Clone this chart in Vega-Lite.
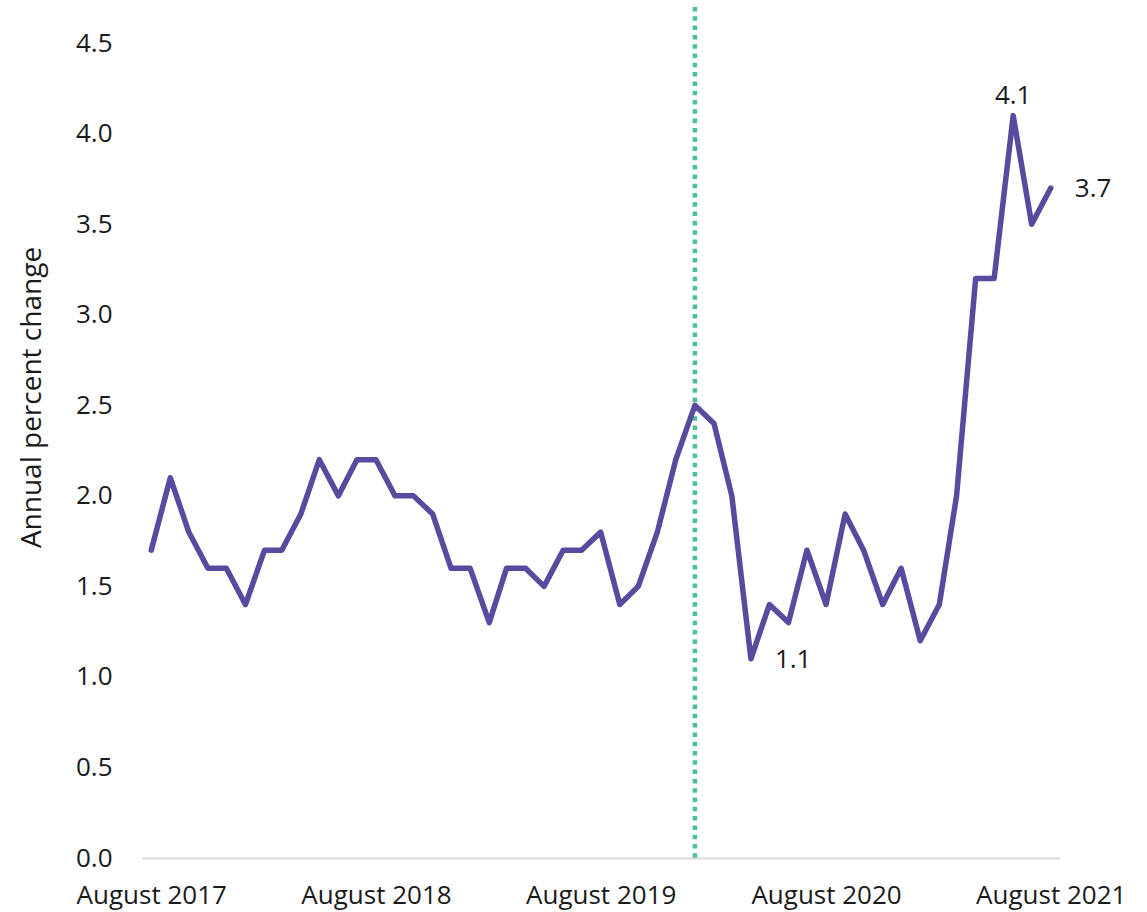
{
  "$schema": "https://vega.github.io/schema/vega-lite/v6.json",
  "width": 918,
  "height": 851,
  "autosize": "none",
  "padding": {"left": 142, "top": 7, "right": 87, "bottom": 54},
  "background": "white",
  "config": {
    "view": {"stroke": null},
    "font": "Open Sans",
    "axis": {"labelFont": "Open Sans", "titleFont": "Open Sans", "labelColor": "#1a1a1a", "titleColor": "#1a1a1a", "grid": false, "ticks": false}
  },
  "datasets": {
    "series": [
      {"date": "2017-08-01", "value": 1.7},
      {"date": "2017-09-01", "value": 2.1},
      {"date": "2017-10-01", "value": 1.8},
      {"date": "2017-11-01", "value": 1.6},
      {"date": "2017-12-01", "value": 1.6},
      {"date": "2018-01-01", "value": 1.4},
      {"date": "2018-02-01", "value": 1.7},
      {"date": "2018-03-01", "value": 1.7},
      {"date": "2018-04-01", "value": 1.9},
      {"date": "2018-05-01", "value": 2.2},
      {"date": "2018-06-01", "value": 2.0},
      {"date": "2018-07-01", "value": 2.2},
      {"date": "2018-08-01", "value": 2.2},
      {"date": "2018-09-01", "value": 2.0},
      {"date": "2018-10-01", "value": 2.0},
      {"date": "2018-11-01", "value": 1.9},
      {"date": "2018-12-01", "value": 1.6},
      {"date": "2019-01-01", "value": 1.6},
      {"date": "2019-02-01", "value": 1.3},
      {"date": "2019-03-01", "value": 1.6},
      {"date": "2019-04-01", "value": 1.6},
      {"date": "2019-05-01", "value": 1.5},
      {"date": "2019-06-01", "value": 1.7},
      {"date": "2019-07-01", "value": 1.7},
      {"date": "2019-08-01", "value": 1.8},
      {"date": "2019-09-01", "value": 1.4},
      {"date": "2019-10-01", "value": 1.5},
      {"date": "2019-11-01", "value": 1.8},
      {"date": "2019-12-01", "value": 2.2},
      {"date": "2020-01-01", "value": 2.5},
      {"date": "2020-02-01", "value": 2.4},
      {"date": "2020-03-01", "value": 2.0},
      {"date": "2020-04-01", "value": 1.1, "label": "1.1", "pos": "low"},
      {"date": "2020-05-01", "value": 1.4},
      {"date": "2020-06-01", "value": 1.3},
      {"date": "2020-07-01", "value": 1.7},
      {"date": "2020-08-01", "value": 1.4},
      {"date": "2020-09-01", "value": 1.9},
      {"date": "2020-10-01", "value": 1.7},
      {"date": "2020-11-01", "value": 1.4},
      {"date": "2020-12-01", "value": 1.6},
      {"date": "2021-01-01", "value": 1.2},
      {"date": "2021-02-01", "value": 1.4},
      {"date": "2021-03-01", "value": 2.0},
      {"date": "2021-04-01", "value": 3.2},
      {"date": "2021-05-01", "value": 3.2},
      {"date": "2021-06-01", "value": 4.1, "label": "4.1", "pos": "top"},
      {"date": "2021-07-01", "value": 3.5},
      {"date": "2021-08-01", "value": 3.7, "label": "3.7", "pos": "end"}
    ],
    "marker": [{"date": "2020-01-01"}]
  },
  "layer": [
    {
      "data": {"name": "marker"},
      "mark": {"type": "rule", "color": "#4dbf94", "strokeWidth": 4.5, "strokeDash": [4.5, 4.8]},
      "encoding": {
        "x": {"field": "date", "type": "temporal"}
      }
    },
    {
      "data": {"name": "series"},
      "mark": {"type": "line", "color": "#564b9f", "strokeWidth": 5.5, "strokeJoin": "round", "strokeCap": "round"},
      "encoding": {
        "x": {
          "field": "date", "type": "temporal",
          "scale": {"type": "utc", "domain": ["2017-07-17", "2021-08-16"]},
          "axis": {
            "title": null,
            "values": ["2017-08-01", "2018-08-01", "2019-08-01", "2020-08-01", "2021-08-01"],
            "format": "%B %Y",
            "labelFontSize": 26,
            "labelPadding": 24,
            "labelOverlap": false,
            "domainColor": "#d9d9d9",
            "domainWidth": 2
          }
        },
        "y": {
          "field": "value", "type": "quantitative",
          "scale": {"domain": [0, 4.7], "nice": false},
          "axis": {
            "title": "Annual percent change",
            "values": [0, 0.5, 1, 1.5, 2, 2.5, 3, 3.5, 4, 4.5],
            "format": ".1f",
            "labelFontSize": 26,
            "labelPadding": 30,
            "titleFontSize": 28,
            "titleFontWeight": "normal",
            "titleX": -110,
            "titleY": 390,
            "titleAngle": -90,
            "titleAlign": "center",
            "titleBaseline": "middle",
            "domain": false
          }
        }
      }
    },
    {
      "data": {"name": "series"},
      "transform": [{"filter": "datum.pos === 'top'"}],
      "mark": {"type": "text", "fontSize": 26, "color": "#1a1a1a", "dy": -20, "baseline": "middle", "align": "center"},
      "encoding": {
        "x": {"field": "date", "type": "temporal"},
        "y": {"field": "value", "type": "quantitative"},
        "text": {"field": "label"}
      }
    },
    {
      "data": {"name": "series"},
      "transform": [{"filter": "datum.pos === 'end' || datum.pos === 'low'"}],
      "mark": {"type": "text", "fontSize": 26, "color": "#1a1a1a", "dx": 24, "dy": 1, "baseline": "middle", "align": "left"},
      "encoding": {
        "x": {"field": "date", "type": "temporal"},
        "y": {"field": "value", "type": "quantitative"},
        "text": {"field": "label"}
      }
    }
  ]
}
